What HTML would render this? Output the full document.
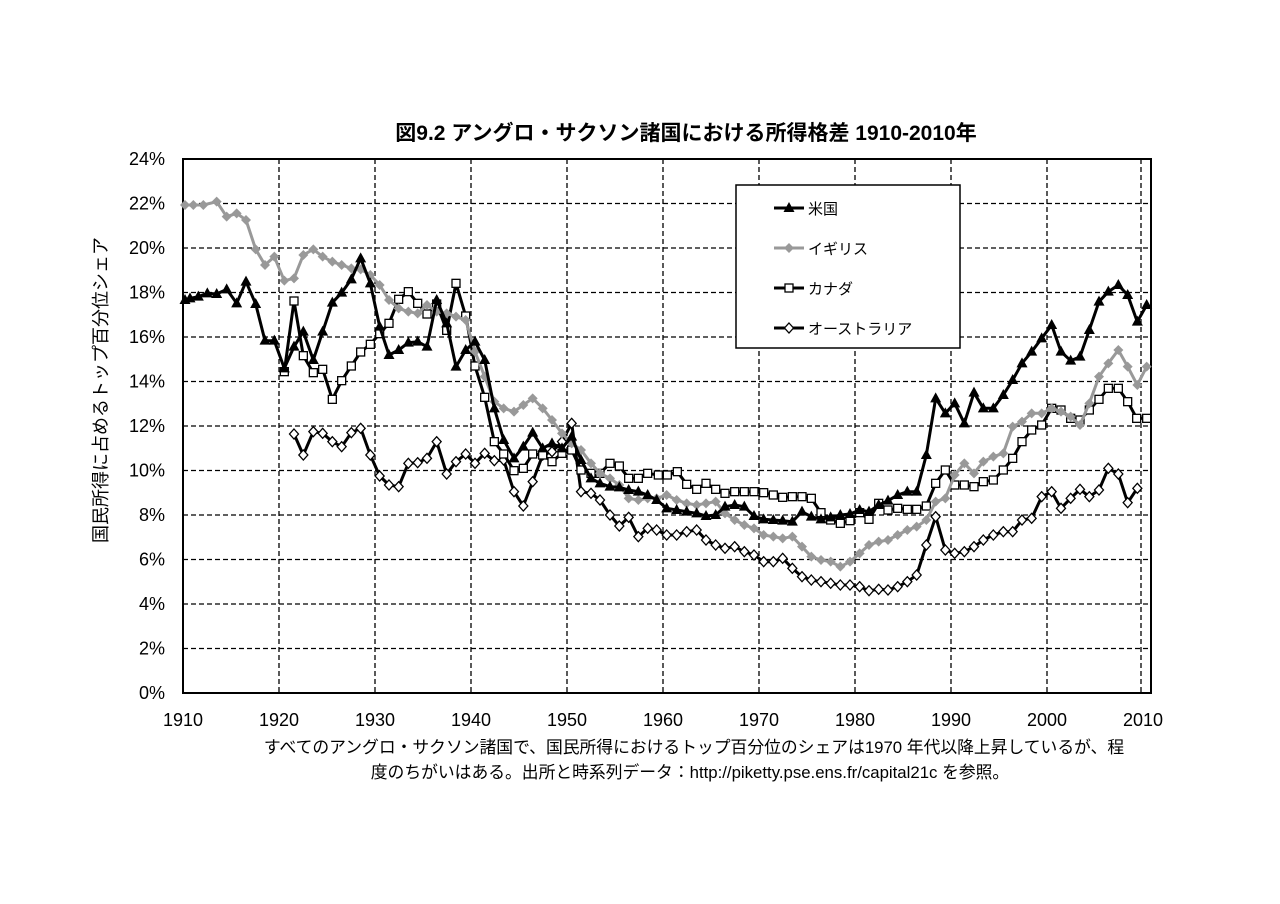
<!DOCTYPE html>
<html><head><meta charset="utf-8"><style>
html,body{margin:0;padding:0;background:#fff}
svg{display:block}
text{font-family:"Liberation Sans","Noto Sans CJK JP",sans-serif}
</style></head><body>
<svg id="s" width="1280" height="904" viewBox="0 0 1280 904" xmlns="http://www.w3.org/2000/svg">
<text x="686" y="140" text-anchor="middle" font-size="21" font-weight="bold">図9.2 アングロ・サクソン諸国における所得格差 1910-2010年</text>
<g id="grid" stroke="#000" stroke-width="1.3" stroke-dasharray="5,3"></g>
<rect x="183" y="159" width="968" height="534" fill="none" stroke="#000" stroke-width="2"/>
<g id="lab" font-size="18"></g>
<text transform="translate(107,390) rotate(-90)" text-anchor="middle" font-size="18">国民所得に占めるトップ百分位シェア</text>
<text x="694" y="753" text-anchor="middle" font-size="16.8">すべてのアングロ・サクソン諸国で、国民所得におけるトップ百分位のシェアは1970 年代以降上昇しているが、程</text>
<text x="690" y="778" text-anchor="middle" font-size="16.8">度のちがいはある。出所と時系列データ：http://piketty.pse.ens.fr/capital21c を参照。</text>
<g id="series"></g>
<rect x="736" y="185" width="224" height="163" fill="#fff" stroke="#000" stroke-width="1.5"/>
<g id="leg" font-size="15"></g>
</svg>
<script>
var NS="http://www.w3.org/2000/svg";
function el(p,t,a,txt){var e=document.createElementNS(NS,t);for(var k in a)e.setAttribute(k,a[k]);if(txt)e.textContent=txt;p.appendChild(e);return e;}
var g=document.getElementById('grid'),lab=document.getElementById('lab');
for(var i=1;i<=9;i++){var x=183+96*i;el(g,'line',{x1:x,y1:159,x2:x,y2:693});}
el(g,'line',{x1:1141,y1:159,x2:1141,y2:693});
for(var j=1;j<=11;j++){var y=693-j*2*22.25;el(g,'line',{x1:183,y1:y,x2:1151,y2:y});}
for(var j=0;j<=12;j++){var y=693-j*2*22.25;el(lab,'text',{x:165,y:y+6,'text-anchor':'end'},(2*j)+'%');}
for(var i=0;i<=10;i++){el(lab,'text',{x:183+96*i,y:726,'text-anchor':'middle'},(1910+10*i)+'');}
function conv(a,b){var r=[];for(var i=0;i<a.length;i++)r.push([170+a[i][0]/3,150+a[i][1]/3]);for(var i=0;i<b.length;i++)r.push([650+b[i][0]/3,150+b[i][1]/3]);return r;}
var US=conv([[45,450],[60,445],[85,440],[112,430],[140,432],[170,418],[200,460],[228,395],[257,462],[285,572],[313,572],[343,655],[372,590],[400,545],[430,630],[458,545],[487,458],[515,428],[544,388],[572,325],[601,400],[629,530],[657,615],[686,600],[715,578],[743,575],[771,590],[800,450],[830,520],[858,650],[887,600],[915,575],[944,630],[973,775],[1001,870],[1032,925],[1060,890],[1088,848],[1118,895],[1146,880],[1176,895],[1205,860],[1233,930],[1263,985],[1290,1000],[1320,1010],[1348,1012],[1376,1020],[1405,1025],[1433,1035]],
[[20,1050],[50,1075],[80,1080],[110,1085],[140,1090],[168,1098],[197,1095],[225,1070],[254,1065],[283,1070],[312,1098],[341,1108],[370,1110],[398,1112],[427,1115],[456,1085],[484,1100],[513,1108],[542,1102],[571,1095],[600,1092],[629,1080],[657,1085],[686,1065],[714,1052],[743,1035],[772,1025],[800,1025],[829,915],[857,745],[886,790],[914,760],[943,820],[972,728],[1000,775],[1030,775],[1060,735],[1088,690],[1116,640],[1145,605],[1175,565],[1205,525],[1233,605],[1262,632],[1290,620],[1318,540],[1347,455],[1375,425],[1405,405],[1433,435],[1462,515],[1490,465]]);
var UK=conv([[45,165],[70,165],[100,165],[140,155],[170,200],[200,190],[228,210],[257,298],[285,345],[313,320],[343,392],[372,385],[400,315],[430,298],[458,320],[487,335],[515,345],[544,355],[572,358],[601,375],[629,405],[657,450],[686,475],[715,485],[743,490],[771,465],[800,485],[830,490],[858,500],[887,510],[915,605],[944,680],[973,755],[1001,775],[1032,785],[1060,765],[1088,745],[1118,775],[1146,810],[1176,850],[1205,880],[1233,900],[1263,940],[1290,970],[1320,985],[1348,1005],[1376,1045],[1405,1050],[1433,1045]],
[[20,1045],[50,1035],[80,1050],[110,1060],[140,1065],[168,1060],[197,1055],[225,1090],[254,1110],[283,1125],[312,1135],[341,1155],[370,1160],[398,1165],[427,1160],[456,1190],[484,1220],[513,1230],[542,1235],[571,1250],[600,1235],[629,1210],[657,1185],[686,1175],[714,1170],[743,1155],[772,1140],[800,1130],[829,1110],[857,1055],[886,1045],[914,975],[943,940],[972,970],[1000,935],[1030,920],[1060,910],[1088,830],[1116,815],[1145,790],[1175,790],[1205,775],[1233,785],[1262,800],[1290,825],[1318,760],[1347,680],[1375,640],[1405,600],[1433,650],[1462,705],[1490,650]]);
var CA=conv([[343,665],[372,453],[400,617],[430,668],[458,658],[487,748],[515,692],[544,648],[572,606],[601,583],[629,551],[657,520],[686,448],[715,425],[743,460],[771,492],[800,462],[830,541],[858,400],[887,498],[915,648],[944,742],[973,875],[1001,912],[1032,962],[1060,955],[1088,912],[1118,915],[1146,935],[1176,910],[1205,900],[1233,960],[1263,970],[1290,970],[1320,940],[1348,948],[1376,985],[1405,985],[1433,970]],
[[25,975],[52,975],[82,965],[110,1003],[140,1018],[168,1000],[197,1018],[225,1030],[254,1025],[283,1025],[312,1025],[341,1028],[370,1035],[398,1042],[427,1040],[456,1040],[484,1045],[513,1088],[542,1110],[571,1120],[600,1112],[629,1088],[657,1108],[686,1060],[714,1080],[743,1075],[772,1078],[800,1078],[829,1068],[857,1000],[886,960],[914,1005],[943,1005],[972,1010],[1000,995],[1030,990],[1060,960],[1088,925],[1116,875],[1145,840],[1175,825],[1205,775],[1233,780],[1262,805],[1290,810],[1318,780],[1347,748],[1375,715],[1405,715],[1433,755],[1460,805],[1490,805]]);
var AU=conv([[372,852],[400,915],[430,845],[458,850],[487,875],[515,890],[544,848],[572,835],[601,915],[629,978],[657,1005],[686,1010],[715,940],[743,938],[771,925],[800,875],[830,972],[858,935],[887,912],[915,940],[944,910],[973,932],[1001,930],[1032,1025],[1060,1068],[1088,995],[1118,915],[1146,905],[1176,875],[1205,820],[1233,1025],[1263,1030],[1290,1050],[1320,1095],[1348,1128],[1376,1102],[1405,1160],[1433,1135]],
[[20,1140],[50,1155],[80,1155],[110,1145],[140,1140],[168,1170],[197,1185],[225,1195],[254,1190],[283,1205],[312,1215],[341,1235],[370,1235],[398,1225],[427,1255],[456,1280],[484,1290],[513,1295],[542,1300],[571,1305],[600,1305],[629,1310],[657,1322],[686,1318],[714,1320],[743,1310],[772,1295],[800,1275],[829,1185],[857,1100],[886,1200],[914,1210],[943,1205],[972,1190],[1000,1170],[1030,1155],[1060,1145],[1088,1145],[1116,1110],[1145,1105],[1175,1040],[1205,1025],[1233,1075],[1262,1045],[1290,1018],[1318,1040],[1347,1020],[1375,955],[1405,972],[1433,1058],[1462,1015]]);
var S=document.getElementById('series');
function mark(p,t,x,y){
 if(t=='tri')el(p,'polygon',{points:(x)+','+(y-6)+' '+(x-5.5)+','+(y+4)+' '+(x+5.5)+','+(y+4),fill:'#000'});
 else if(t=='gd')el(p,'polygon',{points:x+','+(y-5)+' '+(x+5)+','+y+' '+x+','+(y+5)+' '+(x-5)+','+y,fill:'#999'});
 else if(t=='sq')el(p,'rect',{x:x-4,y:y-4,width:8,height:8,fill:'#fff',stroke:'#000','stroke-width':1.3});
 else el(p,'polygon',{points:x+','+(y-5)+' '+(x+4.5)+','+y+' '+x+','+(y+5)+' '+(x-4.5)+','+y,fill:'#fff',stroke:'#000','stroke-width':1.3});
}
function draw(d,col,t){var g=el(S,'g',{});el(g,'polyline',{points:d.map(function(p){return p[0].toFixed(1)+','+p[1].toFixed(1)}).join(' '),fill:'none',stroke:col,'stroke-width':3,'stroke-linejoin':'round'});d.forEach(function(p){mark(g,t,p[0],p[1]);});}
draw(AU,'#000','wd');draw(CA,'#000','sq');draw(UK,'#999','gd');draw(US,'#000','tri');
var L=document.getElementById('leg');
[['米国','#000','tri'],['イギリス','#999','gd'],['カナダ','#000','sq'],['オーストラリア','#000','wd']].forEach(function(e,i){var y=208+40*i;el(L,'line',{x1:774,y1:y,x2:804,y2:y,stroke:e[1],'stroke-width':3});mark(L,e[2],789,y);el(L,'text',{x:808,y:y+6},e[0]);});
</script>
</body></html>
